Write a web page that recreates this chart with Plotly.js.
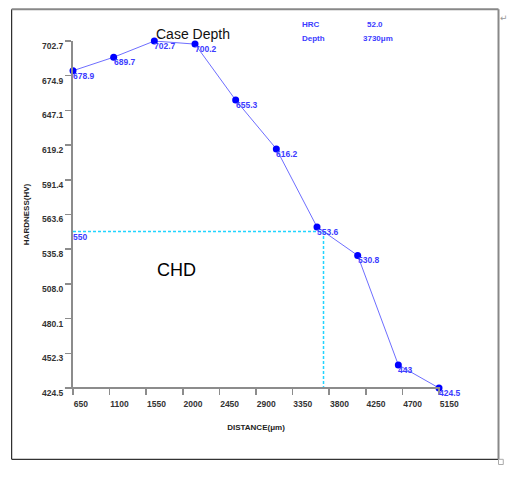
<!DOCTYPE html>
<html>
<head>
<meta charset="utf-8">
<script src="https://cdn.plot.ly/plotly-3.0.1.min.js"></script>
<style>
  html, body { margin: 0; padding: 0; background: #fff; }
  #case-depth { width: 508px; height: 478px; }
</style>
</head>
<body>
<div id="case-depth"></div>
<script>
var distance = [650, 1150, 1650, 2150, 2650, 3150, 3650, 4150, 4650, 5150];
var hardness = [678.9, 689.7, 702.7, 700.2, 655.3, 616.2, 553.6, 530.8, 443, 424.5];
var pointLabels = ['678.9', '689.7', '702.7', '700.2', '655.3', '616.2', '553.6', '530.8', '443', '424.5'];

var xTicks = [650, 1100, 1550, 2000, 2450, 2900, 3350, 3800, 4250, 4700, 5150];
var yTicks = [424.5, 452.3, 480.1, 508.0, 535.8, 563.6, 591.4, 619.2, 647.1, 674.9, 702.7];
var yTickText = ['424.5', '452.3', '480.1', '508.0', '535.8', '563.6', '591.4', '619.2', '647.1', '674.9', '702.7'];

// case hardened depth: limit hardness and depth found
var chdHardness = 550;
var chdDepth = 3730;
var hrcValue = '52.0';
var depthText = '3730\u03bcm';

var font = 'Liberation Sans, Arial, sans-serif';
var blue = 'rgb(60, 60, 255)';
var axisGray = '#8c8c8c';

var curve = {
  x: distance,
  y: hardness,
  type: 'scatter',
  mode: 'lines+markers',
  cliponaxis: false,
  line: { color: 'rgb(110, 110, 255)', width: 1 },
  marker: { color: '#0000ff', size: 7 },
  hoverinfo: 'x+y'
};

var chdLine = {
  x: [distance[0], chdDepth, chdDepth],
  y: [chdHardness, chdHardness, yTicks[0]],
  type: 'scatter',
  mode: 'lines',
  cliponaxis: false,
  line: { color: '#22d4ff', width: 1.5, dash: '3px,2px' },
  hoverinfo: 'skip'
};

var annotations = [];
for (var i = 0; i < distance.length; i++) {
  annotations.push({
    x: distance[i], y: hardness[i],
    xref: 'x', yref: 'y',
    text: pointLabels[i],
    showarrow: false,
    xanchor: 'left', yanchor: 'middle',
    xshift: -2, yshift: -5,
    font: { family: font, size: 8.5, color: blue, weight: 'bold' }
  });
}
annotations.push({
  x: distance[0], y: chdHardness, xref: 'x', yref: 'y',
  text: String(chdHardness), showarrow: false,
  xanchor: 'left', yanchor: 'middle', xshift: -2, yshift: -6,
  font: { family: font, size: 8.5, color: blue, weight: 'bold' }
});

// header texts
annotations.push(
  { xref: 'paper', yref: 'paper', x: 0.329, y: 1.019, text: 'Case Depth', showarrow: false,
    xanchor: 'center', yanchor: 'middle', font: { family: font, size: 14, color: '#111' } },
  { xref: 'paper', yref: 'paper', x: 0.620, y: 1.048, text: 'HRC', showarrow: false,
    xanchor: 'left', yanchor: 'middle', font: { family: font, size: 8, color: blue, weight: 'bold' } },
  { xref: 'paper', yref: 'paper', x: 0.826, y: 1.048, text: hrcValue, showarrow: false,
    xanchor: 'center', yanchor: 'middle', font: { family: font, size: 8, color: blue, weight: 'bold' } },
  { xref: 'paper', yref: 'paper', x: 0.620, y: 1.007, text: 'Depth', showarrow: false,
    xanchor: 'left', yanchor: 'middle', font: { family: font, size: 8, color: blue, weight: 'bold' } },
  { xref: 'paper', yref: 'paper', x: 0.834, y: 1.007, text: depthText, showarrow: false,
    xanchor: 'center', yanchor: 'middle', font: { family: font, size: 8, color: blue, weight: 'bold' } },
  { xref: 'paper', yref: 'paper', x: 0.284, y: 0.340, text: 'CHD', showarrow: false,
    xanchor: 'center', yanchor: 'middle', font: { family: font, size: 18, color: '#000' } },
  { xref: 'paper', yref: 'paper', x: 1.177, y: 1.065, text: '\u21b5', showarrow: false,
    xanchor: 'center', yanchor: 'middle', font: { family: 'DejaVu Sans', size: 9, color: '#999' } }
);

// outer frame (left/bottom black, top/right gray)
var xl = -0.1675, xr = 1.1626, yt = 1.0914, yb = -0.2055;
var shapes = [
  { type: 'line', xref: 'paper', yref: 'paper', x0: xl, x1: xl, y0: yb, y1: yt, line: { color: '#000', width: 1 } },
  { type: 'line', xref: 'paper', yref: 'paper', x0: xl, x1: xr, y0: yb, y1: yb, line: { color: '#000', width: 1 } },
  { type: 'line', xref: 'paper', yref: 'paper', x0: xl, x1: xr, y0: yt, y1: yt, line: { color: '#888', width: 2 } },
  { type: 'line', xref: 'paper', yref: 'paper', x0: xr, x1: xr, y0: yb, y1: yt, line: { color: '#888', width: 2 } },
  { type: 'rect', xref: 'paper', yref: 'paper', x0: xr, x1: xr + 0.013, y0: yb, y1: yb - 0.015, line: { color: '#aaa', width: 1 } },
  // x axis line runs a little past the y axis
  { type: 'line', xref: 'paper', yref: 'paper', x0: -0.022, x1: 1.003, y0: 0, y1: 0, line: { color: axisGray, width: 2 } }
];

var layout = {
  width: 508,
  height: 478,
  margin: { l: 73, r: 69, t: 41, b: 90 },
  paper_bgcolor: '#fff',
  plot_bgcolor: '#fff',
  showlegend: false,
  font: { family: font },
  xaxis: {
    range: [650, 5150],
    tickvals: xTicks,
    ticktext: xTicks.map(String),
    showgrid: false,
    zeroline: false,
    showline: false,
    ticks: 'outside',
    ticklen: 6,
    tickwidth: 1.5,
    tickcolor: axisGray,
    ticklabelposition: 'outside right',
    ticklabelstandoff: 8,
    tickfont: { family: font, size: 8.5, color: '#333', weight: 'bold' },
    title: { text: 'DISTANCE(\u03bcm)', standoff: 16, font: { family: font, size: 8, color: '#222', weight: 'bold' } }
  },
  yaxis: {
    range: [424.5, 702.7],
    tickvals: yTicks,
    ticktext: yTickText,
    showgrid: false,
    zeroline: false,
    showline: true,
    linecolor: axisGray,
    linewidth: 2,
    ticks: 'outside',
    ticklen: 6,
    tickwidth: 1.5,
    tickcolor: axisGray,
    ticklabelshift: 5,
    tickfont: { family: font, size: 8.5, color: '#333', weight: 'bold' },
    title: { text: 'HARDNESS(HV)', standoff: 11, font: { family: font, size: 8, color: '#222', weight: 'bold' } }
  },
  annotations: annotations,
  shapes: shapes
};

Plotly.newPlot('case-depth', [chdLine, curve], layout, { staticPlot: true });
</script>
</body>
</html>
